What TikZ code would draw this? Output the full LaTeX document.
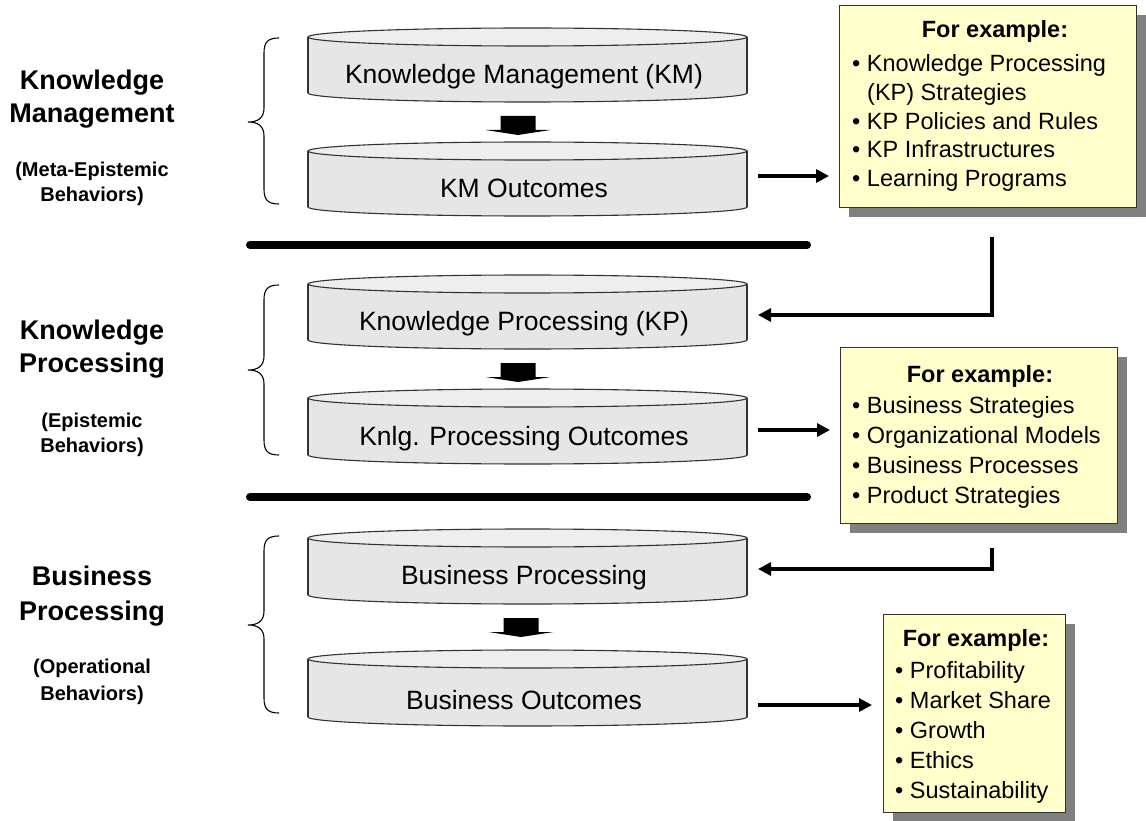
\documentclass[tikz,border=0pt]{standalone}
\usepackage{fontspec}
\setmainfont{Liberation Sans}
\usetikzlibrary{arrows.meta,calc,shadows}
\definecolor{boxyellow}{HTML}{FFFFCC}
\definecolor{diskgray}{HTML}{E6E6E6}
\definecolor{disktop}{HTML}{EEEEEE}
\definecolor{diskedge}{HTML}{333333}
\tikzset{
  diskbody/.style={minimum width=439pt, inner sep=0pt, outer sep=0pt},
  disktext/.style={inner sep=0pt, font=\fontsize{26.5}{30}\selectfont},
  exbox/.style={draw=black!80, fill=boxyellow, line width=0.8pt, inner sep=0pt, outer sep=0pt,
    drop shadow={shadow xshift=10pt, shadow yshift=-10pt, fill=black!50, opacity=1}},
  boxtitle/.style={inner sep=0pt, font=\fontsize{23.5}{28}\selectfont\bfseries},
  boxitem/.style={inner sep=0pt, font=\fontsize{23.5}{28}\selectfont},
  lbig/.style={inner sep=0pt, font=\fontsize{27}{32}\selectfont\bfseries},
  lsmall/.style={inner sep=0pt, font=\fontsize{20}{24}\selectfont\bfseries},
  conn/.style={line width=4pt, -{Triangle[length=13pt,width=13pt]}},
  sepline/.style={line width=8pt, line cap=round},
  bracestyle/.style={line width=1.1pt, black},
  diskline/.style={draw=diskedge, line width=1.1pt}
}
\newcommand\mydisk[5]{%
  \filldraw[fill=diskgray, diskline] (527.5,#3) ellipse [x radius=219.5, y radius=9];
  \fill[diskgray] (308,#2) rectangle (747,#3);
  \draw[diskline] (308,#2) -- (308,#3) (747,#2) -- (747,#3);
  \filldraw[fill=disktop, diskline] (527.5,#2) ellipse [x radius=219.5, y radius=9];
  \node[diskbody, minimum height={#3-#2}] (#1) at (527.5,{(#2+#3)/2}) {};
  \node[disktext, anchor=base] (#1-t) at (524,#4) {#5};
}
\newcommand\blockarrow[2]{%
  \fill[black] (#1-17.5,#2) -- (#1+17.5,#2) -- (#1+17.5,#2+14) -- (#1+32.5,#2+14)
    -- (#1,#2+19) -- (#1-32.5,#2+14) -- (#1-17.5,#2+14) -- cycle;
}
\newcommand\mybrace[3]{%
  \draw[bracestyle] (279,#1) .. controls (268,#1) and (264,#1+4) .. (264,#1+15)
    -- (264,#2-14) .. controls (264,#2-4) and (258,#2) .. (248,#2)
    .. controls (258,#2) and (264,#2+4) .. (264,#2+14)
    -- (264,#3-15) .. controls (264,#3-4) and (268,#3) .. (279,#3);
}
\begin{document}
\begin{tikzpicture}[x=1pt,y=-1pt]
\fill[white] (0,0) rectangle (1146,821);
\useasboundingbox (0,0) rectangle (1146,821);

% ---------- Section 1 ----------
\node[lbig, anchor=base] (l1a) at (92,90) {Knowledge};
\node[lbig, anchor=base] (l1b) at (92,123) {Management};
\node[lsmall, anchor=base] (l1c) at (92,177) {(Meta-Epistemic};
\node[lsmall, anchor=base] (l1d) at (92,202) {Behaviors)};
\mybrace{38}{122}{204}
\mydisk{km}{37}{93}{84}{Knowledge Management (KM)}
\blockarrow{518}{116}
\mydisk{kmo}{151}{207}{198}{KM Outcomes}

\node[exbox, minimum width=297pt, minimum height=202pt] (box1) at (987.5,106) {};
\node[boxtitle, anchor=base] (box1-h) at (995,38) {For example:};
\node[boxitem, anchor=base west] (box1-a) at (852,72) {• Knowledge Processing};
\node[boxitem, anchor=base west] (box1-b) at (867,101) {(KP) Strategies};
\node[boxitem, anchor=base west] (box1-c) at (852,130) {• KP Policies and Rules};
\node[boxitem, anchor=base west] (box1-d) at (852,158) {• KP Infrastructures};
\node[boxitem, anchor=base west] (box1-e) at (852,187) {• Learning Programs};

\draw[sepline] (250,245) -- (807,245);

% ---------- Section 2 ----------
\node[lbig, anchor=base] (l2a) at (92,339) {Knowledge};
\node[lbig, anchor=base] (l2b) at (92,372) {Processing};
\node[lsmall, anchor=base] (l2c) at (92,427) {(Epistemic};
\node[lsmall, anchor=base] (l2d) at (92,452) {Behaviors)};
\mybrace{285}{370}{455}
\mydisk{kp}{284}{340}{330}{Knowledge Processing (KP)}
\blockarrow{518}{363}
\mydisk{kpo}{398}{455}{445}{Knlg. Processing Outcomes}

\node[exbox, minimum width=277pt, minimum height=176pt] (box2) at (978.5,435) {};
\node[boxtitle, anchor=base] (box2-h) at (980,382) {For example:};
\node[boxitem, anchor=base west] (box2-a) at (852,413) {• Business Strategies};
\node[boxitem, anchor=base west] (box2-b) at (852,443) {• Organizational Models};
\node[boxitem, anchor=base west] (box2-c) at (852,473) {• Business Processes};
\node[boxitem, anchor=base west] (box2-d) at (852,503) {• Product Strategies};

\draw[sepline] (250,497) -- (807,497);

% ---------- Section 3 ----------
\node[lbig, anchor=base] (l3a) at (92,585) {Business};
\node[lbig, anchor=base] (l3b) at (92,620) {Processing};
\node[lsmall, anchor=base] (l3c) at (92,673) {(Operational};
\node[lsmall, anchor=base] (l3d) at (92,700) {Behaviors)};
\mybrace{536}{625}{713}
\mydisk{bp}{538}{595}{584}{Business Processing}
\blockarrow{521}{618}
\mydisk{bo}{659}{717}{709}{Business Outcomes}

\node[exbox, minimum width=182pt, minimum height=198pt] (box3) at (974,713) {};
\node[boxtitle, anchor=base] (box3-h) at (976,646) {For example:};
\node[boxitem, anchor=base west] (box3-a) at (895,678) {• Profitability};
\node[boxitem, anchor=base west] (box3-b) at (895,708) {• Market Share};
\node[boxitem, anchor=base west] (box3-c) at (895,738) {• Growth};
\node[boxitem, anchor=base west] (box3-d) at (895,768) {• Ethics};
\node[boxitem, anchor=base west] (box3-e) at (895,798) {• Sustainability};

% ---------- Connectors ----------
\draw[conn] ($(kmo.east)+(11,-3)$) -- ($(box1.west |- kmo.east)+(-10,-3)$);
\draw[conn] ($(kpo.east)+(11,3.5)$) -- ($(box2.west |- kpo.east)+(-10,3.5)$);
\draw[conn] ($(bo.east)+(11,17)$) -- ($(box3.west |- bo.east)+(-11,17)$);

\coordinate (ret1) at ($(box1.south)+(4.5,30)$);
\coordinate (ret2) at ($(box2.south)+(13.5,25)$);
\draw[conn] (ret1) |- ($(kp.east)+(11,3)$);
\draw[conn] (ret2) |- ($(bp.east)+(11,2.5)$);
\end{tikzpicture}
\end{document}
